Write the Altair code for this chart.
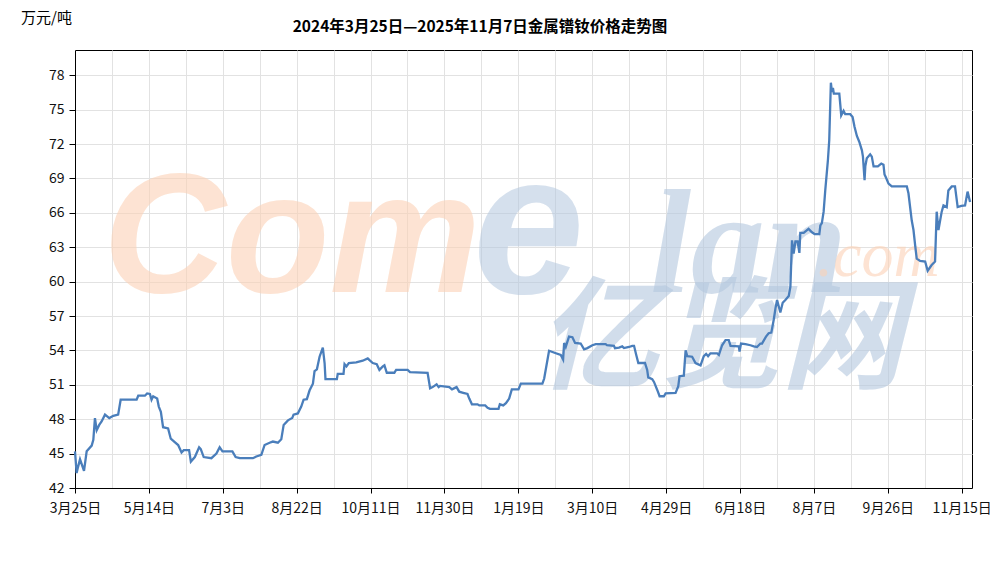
import json
import altair as alt
import pandas as pd

# ---- data (day offset from 2024-03-25, price in 万元/吨) ----
days = [
    0, 1.1, 2, 3.4, 6.1, 7.9, 11.3, 12.4, 13.5, 14.7,
    16.4, 18, 20.3, 23.2, 25.9, 29.2, 30.9, 41.7, 42.8, 47.3,
    48.8, 50.7, 51.8, 52.9, 55.6, 56.7, 58.1, 59.6, 63, 64.8,
    67.5, 69.8, 72.1, 73.6, 77.2, 78.4, 81.1, 84, 85.1, 87.1,
    92.3, 95.7, 97.9, 99.8, 106.5, 108.7, 111.5, 120.4, 122.7, 126.1,
    128.3, 131.7, 133.9, 137.3, 139.6, 141.2, 144.1, 147, 147.9, 150.8,
    153.1, 154.7, 156.9, 158.7, 161, 162.1, 163.7, 165.5, 167.7, 168.9,
    169.5, 177.2, 177.8, 181.7, 182.4, 183.7, 185.3, 190.3, 194.7, 198.1,
    199.3, 201.5, 204.2, 206, 208.3, 209.4, 211, 216.1, 217.3, 225.1,
    226.7, 238.6, 240.3, 242, 244.7, 246.1, 247, 253.3, 255.1, 258.2,
    260, 262.7, 265.6, 266.8, 268.6, 272.4, 273.6, 277.6, 279.2, 280.8,
    286.6, 287.5, 289.8, 291.6, 293.8, 295.6, 300.1, 301.7, 316.3, 317.5,
    320.8, 325.4, 328.7, 330.3, 331, 332.1, 334.3, 336.6, 338.4, 342.2,
    344.5, 346.7, 350.1, 352.4, 359.1, 360, 364.7, 365.4, 368.1, 370.3,
    371.5, 374.9, 377.1, 378.3, 379.8, 381.2, 385.7, 387.2, 387.9, 390.6,
    391.8, 394, 395.6, 398.5, 399.7, 406.4, 408.2, 409.1, 412, 413.2,
    414.3, 417.6, 419.9, 423.3, 425.5, 427.1, 428.4, 430, 434.5, 435.7,
    437.9, 440.2, 442.4, 443.6, 449.2, 449.7, 450.7, 453.7, 457.1, 459.3,
    461.5, 463.8, 464.9, 467.6, 469.4, 471.2, 472.8, 474, 475.1, 477.3,
    478.9, 480.7, 483, 484.1, 485.2, 486.3, 487.5, 489, 490.2, 490.8,
    493.1, 496.4, 498.7, 500.5, 503.7, 504.4, 505.4, 506.6, 507.7, 509.5,
    510.4, 511.1, 511.5, 512.2, 512.9, 513.5, 517.2, 517.9, 518.5, 520.1,
    521.2, 524.6, 526.2, 527.5, 529.1, 530.7, 532.5, 533.2, 534.3, 534.8,
    535.8, 538.1, 539.2, 540.4, 543.3, 545.6, 547.1, 547.8, 548.7, 550.5,
    552.7, 562.9, 564, 566.2, 567.4, 568.5, 569.6, 571.9, 575.3, 577,
    579.7, 582, 583.1, 584.3, 586.5, 587.7, 589.9, 591, 593.3, 595.5,
    597.3, 599.8, 602.3, 604, 605.7,
]
prices = [
    45.2, 43.3, 43.8, 44.5, 43.5, 45.2, 45.7, 46.2, 48.1, 47.05,
    47.5, 47.8, 48.4, 48.1, 48.3, 48.4, 49.7, 49.7, 50.05, 50.05,
    50.25, 50.2, 49.7, 50.0, 49.8, 49.1, 48.65, 47.3, 47.2, 46.3,
    46.0, 45.75, 45.1, 45.3, 45.3, 44.3, 44.7, 45.55, 45.4, 44.7,
    44.6, 45.0, 45.55, 45.2, 45.2, 44.7, 44.6, 44.6, 44.75, 44.9,
    45.75, 45.95, 46.05, 45.95, 46.25, 47.5, 47.9, 48.1, 48.4, 48.5,
    49.1, 49.7, 49.75, 50.5, 51.1, 52.2, 52.35, 53.45, 54.25, 52.9,
    51.5, 51.5, 51.95, 51.95, 52.8, 52.6, 52.9, 52.95, 53.1, 53.3,
    53.15, 52.9, 52.8, 52.3, 52.6, 52.7, 52.05, 52.05, 52.3, 52.3,
    52.1, 52.05, 50.7, 50.8, 51.05, 50.8, 50.9, 50.8, 50.6, 50.8,
    50.4, 50.3, 50.2, 49.8, 49.3, 49.3, 49.2, 49.2, 49.0, 48.9,
    48.9, 49.3, 49.2, 49.4, 49.8, 50.6, 50.6, 51.1, 51.1, 51.55,
    53.97, 53.75, 53.6, 53.2, 54.65, 54.3, 55.2, 55.15, 54.65, 54.6,
    54.1, 54.2, 54.45, 54.55, 54.55, 54.45, 54.4, 54.2, 54.25, 54.35,
    54.2, 54.3, 54.4, 54.4, 53.6, 52.9, 52.9, 52.3, 51.65, 51.5,
    51.25, 50.55, 50.0, 50.0, 50.25, 50.3, 50.85, 51.75, 51.8, 54.0,
    53.5, 53.45, 52.9, 52.7, 53.5, 53.7, 53.5, 53.75, 53.75, 53.6,
    54.45, 54.9, 54.9, 54.4, 54.35, 53.9, 54.6, 54.55, 54.45, 54.35,
    54.3, 54.6, 54.6, 55.2, 55.5, 55.55, 56.65, 57.65, 58.4, 57.3,
    58.15, 58.4, 58.75, 59.55, 63.6, 62.45, 63.5, 63.5, 62.5, 64.25,
    64.25, 64.6, 64.3, 64.15, 64.15, 64.9, 65.1, 66.1, 67.95, 70.6,
    72.35, 75.55, 77.35, 76.55, 76.9, 76.4, 76.4, 75.4, 74.5, 74.9,
    74.6, 74.6, 74.35, 73.5, 72.7, 72.2, 71.45, 70.9, 68.85, 70.05,
    70.75, 71.1, 70.9, 70.05, 70.05, 70.3, 70.2, 69.35, 69.1, 68.55,
    68.3, 68.3, 67.7, 65.35, 64.5, 63.2, 62.0, 61.8, 61.75, 60.95,
    61.45, 61.75, 66.1, 64.5, 66.1, 66.65, 66.5, 67.95, 68.3, 68.3,
    66.5, 66.6, 66.65, 67.85, 66.95,
]
assert len(days) == len(prices)

x_labels = ["3月25日", "5月14日", "7月3日", "8月22日", "10月11日", "11月30日",
            "1月19日", "3月10日", "4月29日", "6月18日", "8月7日", "9月26日", "11月15日"]
y_ticks = [42, 45, 48, 51, 54, 57, 60, 63, 66, 69, 72, 75, 78]
title_text = "2024年3月25日—2025年11月7日金属镨钕价格走势图"
unit_text = "万元/吨"

df = pd.DataFrame({"day": days, "price": prices})

W, H = 897, 438
CJK = "Noto Sans CJK SC"

label_expr = ("datum.value % 50 == 0 ? "
              + json.dumps(x_labels, ensure_ascii=False)
              + "[datum.value / 50] : ''")

x_enc = alt.X(
    "day:Q",
    scale=alt.Scale(domain=[0, 607], nice=False, zero=False),
    axis=alt.Axis(
        values=list(range(0, 601, 25)), labelExpr=label_expr, title=None,
        grid=True, labelFlush=False, labelOverlap=False, tickSize=5,
        labelPadding=8,
        tickColor={"condition": {"test": "datum.value % 50 != 0", "value": "transparent"},
                   "value": "black"},
    ),
)
y_enc = alt.Y(
    "price:Q",
    scale=alt.Scale(domain=[42, 80.2], nice=False, zero=False),
    axis=alt.Axis(values=y_ticks, grid=True, tickSize=6, labelPadding=5, title=None),
)


def txt(text, x, y, size, color, font, weight="normal", style="normal",
        baseline="alphabetic", align="left", opacity=1.0):
    return alt.Chart(pd.DataFrame({"t": [text]})).mark_text(
        font=font, fontSize=size, fontWeight=weight, fontStyle=style,
        color=color, opacity=opacity, align=align, baseline=baseline,
    ).encode(x=alt.value(x), y=alt.value(y), text="t:N")


# ---- watermark (decoration) ----
orange = "#FCD2B6"
blue = "#B4C8DF"
wms = [
    txt("Com", 28, 242, 170, orange, "Liberation Sans", "bold", "italic", opacity=0.6),
    txt("e", 398, 243, 200, blue, "Liberation Sans", "bold", "italic", opacity=0.55),
    txt("lan", 575, 242, 148, blue, "Liberation Sans Narrow", "bold", "italic", opacity=0.6),
    txt(".com", 742, 226, 64, orange, "Liberation Sans Narrow", "normal", "italic", opacity=0.6),
    txt("亿览网", 462, 292, 122, blue, CJK, "bold", "italic", baseline="middle", opacity=0.6),
]

# ---- title and unit label ----
texts = [
    txt(title_text, 405, -23, 15.5, "black", CJK, "bold", baseline="middle", align="center"),
    txt(unit_text, -54, -32, 15, "black", CJK, baseline="middle"),
]

line = alt.Chart(df).mark_line(color="#4a7ebb", strokeWidth=2.3).encode(x=x_enc, y=y_enc)

chart = alt.layer(*wms, line, *texts).properties(
    width=W, height=H,
    autosize=alt.AutoSizeParams(type="none"),
    padding={"left": 67, "top": 42, "right": 18, "bottom": 60},
).configure_view(
    stroke="black", strokeWidth=1,
).configure_axis(
    gridColor="#e2e2e2", gridWidth=1, domainColor="black", tickColor="black",
    labelColor="#111", labelFont=CJK, labelFontSize=14,
)

chart.save("out.html", embed_options={"renderer": "svg", "actions": False})
